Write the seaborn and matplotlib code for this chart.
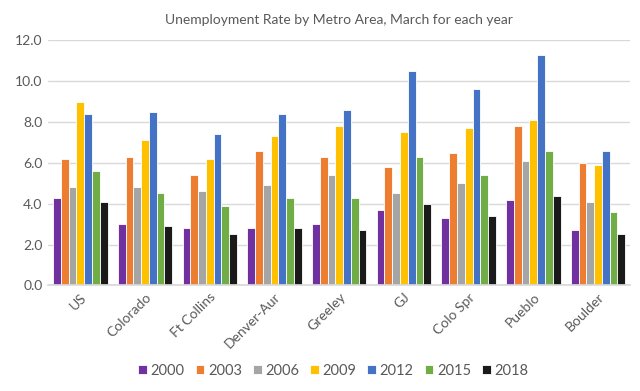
import pandas as pd
import seaborn as sns
import matplotlib.pyplot as plt

areas = ["US", "Colorado", "Ft Collins", "Denver-Aur", "Greeley", "GJ", "Colo Spr", "Pueblo", "Boulder"]
years = ["2000", "2003", "2006", "2009", "2012", "2015", "2018"]

# one list per year, in the order of areas
r2000 = [4.3, 3.0, 2.8, 2.8, 3.0, 3.7, 3.3, 4.2, 2.7]
r2003 = [6.2, 6.3, 5.4, 6.6, 6.3, 5.8, 6.5, 7.8, 6.0]
r2006 = [4.8, 4.8, 4.6, 4.9, 5.4, 4.5, 5.0, 6.1, 4.1]
r2009 = [9.0, 7.1, 6.2, 7.3, 7.8, 7.5, 7.7, 8.1, 5.9]
r2012 = [8.4, 8.5, 7.4, 8.4, 8.6, 10.5, 9.6, 11.3, 6.6]
r2015 = [5.6, 4.5, 3.9, 4.3, 4.3, 6.3, 5.4, 6.6, 3.6]
r2018 = [4.1, 2.9, 2.5, 2.8, 2.7, 4.0, 3.4, 4.4, 2.5]

colors = ["#7030A0", "#ED7D31", "#A5A5A5", "#FFC000", "#4472C4", "#70AD47", "#1A1A1A"]

wide = pd.DataFrame(dict(zip(years, [r2000, r2003, r2006, r2009, r2012, r2015, r2018])), index=areas)
df = wide.reset_index().melt(id_vars="index", var_name="Year", value_name="Rate")
df = df.rename(columns={"index": "Area"})

sns.set_theme(style="white")
plt.rcParams["font.family"] = ["Lato", "DejaVu Sans"]
txt = "#595959"

fig, ax = plt.subplots(figsize=(6.4, 3.91), dpi=100)
fig.subplots_adjust(left=0.075, right=0.985, top=0.897, bottom=0.27)

sns.barplot(data=df, x="Area", y="Rate", hue="Year", hue_order=years, palette=colors,
            width=0.84, edgecolor="white", linewidth=0.6, saturation=1, ax=ax)

ax.set_ylim(0, 12)
ax.set_yticks(range(0, 13, 2))
ax.set_yticklabels([f"{v:.1f}" for v in range(0, 13, 2)], color=txt, fontsize=10)
ax.yaxis.grid(True, color="#D9D9D9", linewidth=1)
ax.set_axisbelow(True)
ax.set_xlabel("")
ax.set_ylabel("")
ax.set_xticks(range(len(areas)))
ax.set_xticklabels(areas, rotation=45, ha="right", rotation_mode="anchor", color=txt, fontsize=10)
ax.tick_params(axis="both", length=0, pad=4)
for s in ["top", "right", "left"]:
    ax.spines[s].set_visible(False)
ax.spines["bottom"].set_color("#D9D9D9")

ax.set_title("Unemployment Rate by Metro Area, March for each year", fontsize=10, color=txt, pad=12)

ax.legend(loc="upper center", bbox_to_anchor=(0.49, -0.265), ncol=7, frameon=False,
          fontsize=10.5, handlelength=0.6, handleheight=0.6, handletextpad=0.25, columnspacing=0.75,
          labelcolor=txt)

fig.savefig("out.png", dpi=100)
